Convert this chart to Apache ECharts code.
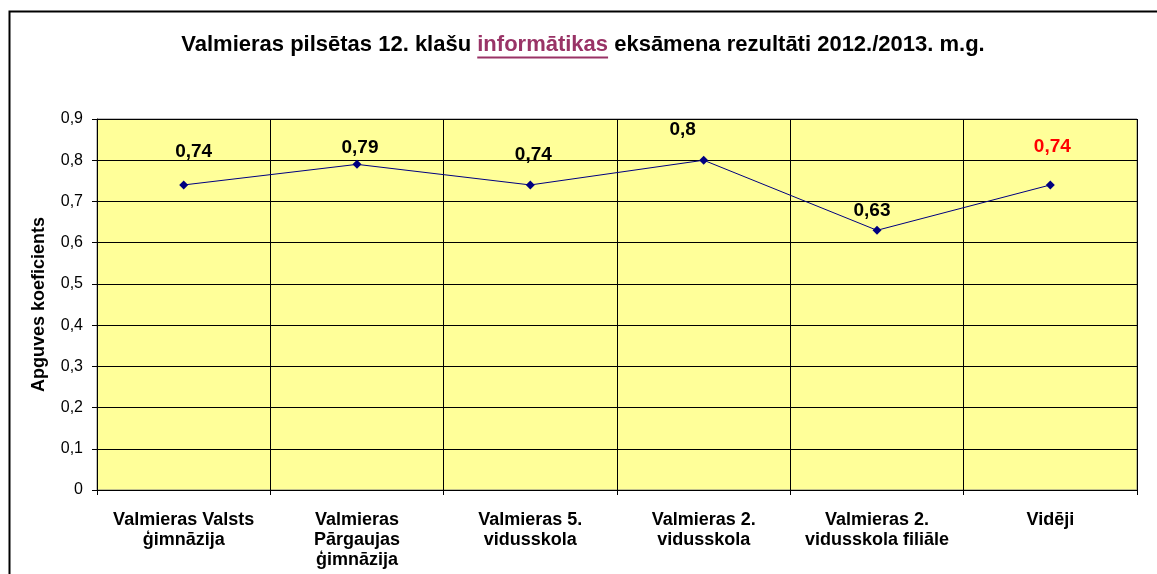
<!DOCTYPE html>
<html>
<head>
<meta charset="utf-8">
<script src="https://cdn.jsdelivr.net/npm/echarts@6/dist/echarts.min.js"></script>
<style>
  html, body { margin: 0; padding: 0; background: #fff; }
</style>
</head>
<body>
<div id="chart" style="width: 1157px; height: 574px"></div>
<script>
const schools = [
  'Valmieras Valsts\nģimnāzija',
  'Valmieras\nPārgaujas\nģimnāzija',
  'Valmieras 5.\nvidusskola',
  'Valmieras 2.\nvidusskola',
  'Valmieras 2.\nvidusskola filiāle',
  'Vidēji',
]
const coefficients = [0.74, 0.79, 0.74, 0.8, 0.63, 0.74]
const yTicks = [0, 0.1, 0.2, 0.3, 0.4, 0.5, 0.6, 0.7, 0.8, 0.9]

// hand-placed label offsets, as in the original sheet
const labelShift = [[10, -33], [3, -17], [3, -30], [-21, -30], [-5, -20], [2, -38]]

const FONT = '"Liberation Sans", Arial, sans-serif'
const titleParts = ['Valmieras pilsētas 12. klašu ', 'informātikas', ' eksāmena rezultāti 2012./2013. m.g.']
const titleSize = 22
const titleCenter = 583

const measure = (text) => {
  const ctx = document.createElement('canvas').getContext('2d')
  ctx.font = 'bold ' + titleSize + 'px ' + FONT
  return ctx.measureText(text).width
}

const fullWidth = measure(titleParts.join(''))
const ulStart = titleCenter - fullWidth / 2 + measure(titleParts[0])
const ulEnd = ulStart + measure(titleParts[1])

const chart = echarts.init(document.getElementById('chart'))

const option = {
  animation: false,
  textStyle: { fontFamily: FONT },
  title: {
    text: '{a|' + titleParts[0] + '}{b|' + titleParts[1] + '}{a|' + titleParts[2] + '}',
    left: titleCenter,
    top: 34,
    padding: 0,
    textAlign: 'center',
    textStyle: {
      rich: {
        a: { fontSize: titleSize, fontWeight: 'bold', color: '#000', fontFamily: FONT },
        b: { fontSize: titleSize, fontWeight: 'bold', color: '#993366', fontFamily: FONT },
      },
    },
  },
  graphic: [
    {
      type: 'rect',
      left: 7,
      top: 9,
      shape: { width: 1200, height: 700 },
      style: { fill: 'none', stroke: '#000', lineWidth: 2 },
      silent: true,
    },
    {
      type: 'line',
      shape: { x1: ulStart, y1: 57.5, x2: ulEnd, y2: 57.5 },
      style: { stroke: '#993366', lineWidth: 2 },
      silent: true,
    },
  ],
  grid: {
    left: 97,
    right: 20,
    top: 119,
    bottom: 84,
    show: true,
    backgroundColor: '#FFFF99',
    borderColor: '#808080',
    borderWidth: 1,
  },
  xAxis: {
    type: 'category',
    data: schools,
    boundaryGap: true,
    axisLine: { lineStyle: { color: '#000', width: 1 } },
    axisTick: { show: true, length: 5, inside: false, lineStyle: { color: '#000' } },
    splitLine: { show: true, lineStyle: { color: '#000', width: 1 } },
    axisLabel: {
      interval: 0,
      margin: 20,
      color: '#000',
      fontSize: 18,
      fontWeight: 'bold',
      lineHeight: 20,
      fontFamily: FONT,
    },
  },
  yAxis: {
    type: 'value',
    min: 0,
    max: 0.9,
    interval: 0.1,
    name: 'Apguves koeficients',
    nameLocation: 'middle',
    nameGap: 49,
    nameTextStyle: { fontSize: 18, fontWeight: 'bold', color: '#000', fontFamily: FONT },
    axisLine: { show: true, lineStyle: { color: '#000', width: 1 } },
    axisTick: { show: true, length: 5, lineStyle: { color: '#000' } },
    splitLine: { show: true, lineStyle: { color: '#000', width: 1 } },
    axisLabel: {
      margin: 14,
      color: '#000',
      fontSize: 16,
      fontFamily: FONT,
      formatter: (v) => {
        const t = yTicks.find((y) => Math.abs(y - v) < 1e-9)
        return String(t === undefined ? v : t).replace('.', ',')
      },
    },
  },
  series: [
    {
      type: 'line',
      data: coefficients.map((v, i) => ({
        value: v,
        label: {
          offset: labelShift[i],
          color: i === coefficients.length - 1 ? '#FF0000' : '#000',
        },
      })),
      symbol: 'diamond',
      symbolSize: 9,
      itemStyle: { color: '#000080' },
      lineStyle: { color: '#000080', width: 1 },
      label: {
        show: true,
        position: 'inside',
        fontSize: 19,
        fontWeight: 'bold',
        fontFamily: FONT,
        formatter: (p) => String(p.value).replace('.', ','),
      },
    },
  ],
}

chart.setOption(option)
</script>
</body>
</html>
